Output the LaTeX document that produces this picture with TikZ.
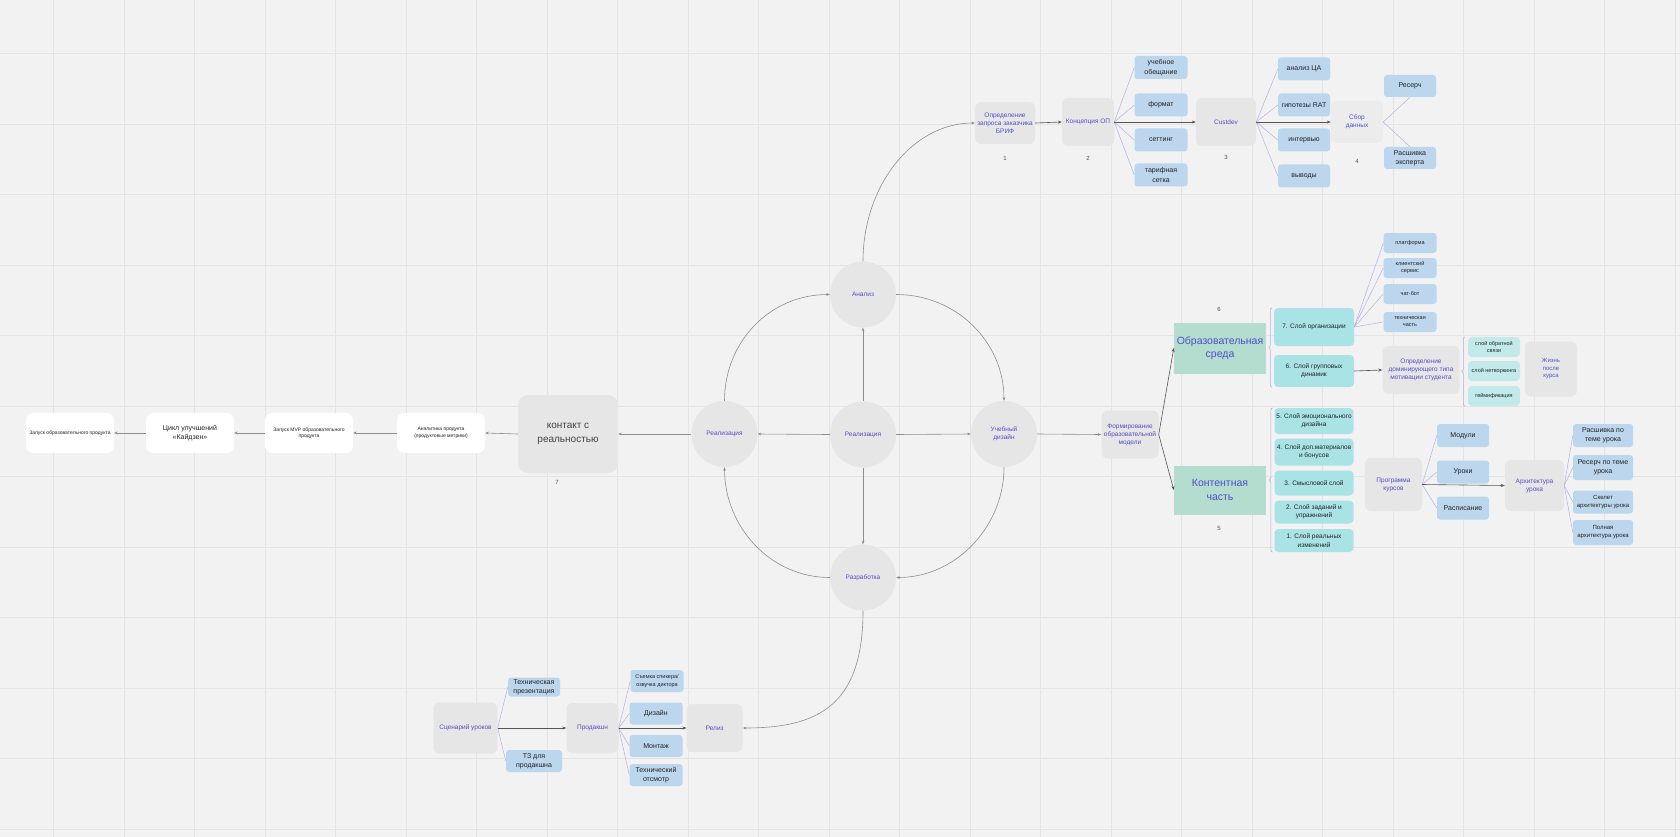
\documentclass[tikz,border=0pt]{standalone}
\usepackage{fontspec}
\setmainfont{Liberation Sans}
\usetikzlibrary{arrows.meta,calc,decorations.pathreplacing}
\definecolor{boardbg}{HTML}{F2F2F2}
\definecolor{gridc}{HTML}{E4E4E4}
\definecolor{stagegray}{HTML}{E6E6E6}
\definecolor{stagelight}{HTML}{ECECEC}
\definecolor{leafblue}{HTML}{BCD6EE}
\definecolor{tierteal}{HTML}{A9E3E5}
\definecolor{subteal}{HTML}{C3EAEB}
\definecolor{areagreen}{HTML}{B4DDD0}
\definecolor{violetink}{HTML}{4F4FC6}
\definecolor{inkc}{HTML}{222222}
\definecolor{flowgray}{HTML}{555555}
\definecolor{loopgray}{HTML}{8E8E8E}
\definecolor{fanc}{HTML}{B2B2E2}
\tikzset{
  gridline/.style={draw=gridc, line width=0.8pt},
  stage/.style={fill=stagegray, rounded corners=6pt, inner sep=1pt, align=center,
    font=\fontsize{6.5}{8}\selectfont, text=violetink},
  cyc/.style={circle, fill=stagegray, minimum size=66pt, inner sep=0pt, align=center,
    font=\fontsize{6.5}{8}\selectfont, text=violetink},
  leaf/.style={fill=leafblue, rounded corners=3pt, inner sep=1pt, align=center,
    font=\fontsize{7}{9.3}\selectfont, text=inkc},
  tier/.style={fill=tierteal, rounded corners=4pt, inner sep=1pt, align=center,
    font=\fontsize{6.5}{8.3}\selectfont, text=inkc},
  area/.style={fill=areagreen, inner sep=1pt, align=center,
    font=\fontsize{10.5}{13.5}\selectfont, text=violetink},
  card/.style={fill=white, rounded corners=7pt, inner sep=1pt, align=center,
    minimum width=88pt, minimum height=40pt, font=\fontsize{5}{6.5}\selectfont, text=inkc},
  numlbl/.style={font=\fontsize{6}{7}\selectfont, text=inkc!80},
  flow/.style={-{Stealth[length=4pt,width=3pt]}, line width=0.6pt, color=flowgray},
  loopflow/.style={-{Stealth[length=3.5pt,width=2.8pt]}, line width=0.6pt, color=loopgray},
  fan/.style={line width=0.5pt, color=fanc},
  span/.style={decorate, decoration={brace, amplitude=3pt}, line width=0.6pt, color=fanc},
}
\begin{document}
\begin{tikzpicture}[x=1pt,y=-1pt]
  \useasboundingbox (0,0) rectangle (1680,837);
  \fill[boardbg] (0,0) rectangle (1680,837);
  \foreach \k in {0,...,23} {\draw[gridline] ({53.5+70.5*\k},0) -- ++(0,837);}
  \foreach \k in {0,...,11} {\draw[gridline] (0,{53.5+70.5*\k}) -- ++(1680,0);}

  % the cycle
  \node[cyc] (analysis) at (863,294.5) {Анализ};
  \node[cyc] (core) at (863,434.5) {Реализация};
  \node[cyc] (deploy) at (724.5,434) {Реализация};
  \node[cyc] (design) at (1004,434) {Учебный\\дизайн};
  \node[cyc] (develop) at (863,577.5) {Разработка};
  \node[stage, minimum width=57pt, minimum height=48pt] (model) at (1130,434.5) {Формирование\\образовательной\\модели};
  \draw[loopflow] (core.north) -- (analysis.south);
  \draw[loopflow] (core.west) -- (deploy.east);
  \draw[loopflow] (core.east) -- (design.west);
  \draw[loopflow] (core.south) -- (develop.north);
  \draw[loopflow] (analysis.east) .. controls +(60,0) and +(0,-59) .. (design.north);
  \draw[loopflow] (design.south) .. controls +(0,59) and +(60,0) .. (develop.east);
  \draw[loopflow] (develop.west) .. controls +(-60,0) and +(0,59) .. (deploy.south);
  \draw[loopflow] (deploy.north) .. controls +(0,-59) and +(-60,0) .. (analysis.west);
  \draw[loopflow] (design.east) -- (model.west);

  % brief
  \node[stage, minimum width=60pt, minimum height=42pt] (brief) at (1005,123) {Определение\\запроса заказчика\\БРИФ};
  \node[stage, minimum width=52pt, minimum height=48pt] (concept) at (1088,122) {Концепция ОП};
  \node[stage, minimum width=60pt, minimum height=48pt] (custdev) at (1226,122) {Custdev};
  \node[stage, fill=stagelight, minimum width=52pt, minimum height=42pt] (gather) at (1357,122) {Сбор\\данных};
  \foreach \nm/\yy/\txt in {promise/67.5/{учебное\\обещание}, format/105/формат,
      setting/140/сеттинг, tariff/175/{тарифная\\сетка}}
    {\node[leaf, minimum width=53pt, minimum height=23pt] (\nm) at (1161,\yy) {\txt};}
  \foreach \nm/\yy/\txt in {audience/69/анализ ЦА, rat/105/гипотезы RAT,
      interview/140/интервью, findings/176/выводы}
    {\node[leaf, minimum width=52pt, minimum height=23pt] (\nm) at (1304,\yy) {\txt};}
  \node[leaf, minimum width=52pt, minimum height=22pt] (research) at (1410,86) {Ресерч};
  \node[leaf, minimum width=52pt, minimum height=22pt] (expert) at (1410,158) {Расшивка\\эксперта};
  \draw[loopflow] (analysis.north) .. controls +(0,-76) and +(-62,0) .. (brief.west);
  \draw[flow] (brief.east) -- (concept.west);
  \foreach \nm in {promise,format,setting,tariff} {\draw[fan] (concept.east) -- (\nm.west);}
  \draw[flow] (concept.east) -- (custdev.west);
  \foreach \nm in {audience,rat,interview,findings} {\draw[fan] (custdev.east) -- (\nm.west);}
  \draw[flow] (custdev.east) -- (gather.west);
  \draw[fan] (gather.east) -- (research.south);
  \draw[fan] (gather.east) -- (expert.north);

  % environment
  \node[area, minimum width=92pt, minimum height=51pt] (env) at (1220,348) {Образовательная\\среда};
  \node[area, minimum width=92pt, minimum height=49pt] (content) at (1220,490) {Контентная\\часть};
  \draw[flow] (model.east) -- (env.west);
  \draw[flow] (model.east) -- (content.west);
  \node[tier, minimum width=80pt, minimum height=38pt] (org) at (1314,327) {7. Слой организации};
  \node[tier, minimum width=80pt, minimum height=32pt] (group) at (1314,371) {6. Слой групповых\\динамик};
  \draw[span] ([xshift=-2pt]group.south west) -- ([xshift=-2pt]org.north west);
  \foreach \nm/\yy/\txt in {platform/243/платформа, service/268/{клиентский\\сервис},
      chatbot/294/чат-бот, techpart/322/{техническая\\часть}} {
    \node[leaf, minimum width=53pt, minimum height=20pt, font=\fontsize{5.5}{7}\selectfont] (\nm) at (1410,\yy) {\txt};
    \draw[fan] (org.east) -- (\nm.west);
  }
  \node[stage, minimum width=77pt, minimum height=48pt] (motive) at (1421,370) {Определение\\доминирующего типа\\мотивации студента};
  \draw[flow] (group.east) -- (motive.west);
  \foreach \nm/\yy/\txt in {feedback/347/{слой обратной\\связи}, network/371/слой нетворкинга,
      gamif/396/геймификация}
    {\node[tier, fill=subteal, minimum width=52pt, minimum height=20pt, font=\fontsize{5.5}{7}\selectfont] (\nm) at (1494,\yy) {\txt};}
  \draw[span] ([xshift=-3pt]gamif.south west) -- ([xshift=-3pt]feedback.north west);
  \node[stage, minimum width=52pt, minimum height=55pt, font=\fontsize{6}{7.5}\selectfont] (after) at (1551,369) {Жизнь\\после\\курса};

  % content
  \foreach \nm/\yy/\hh/\txt in {emotion/421/26/{5. Слой эмоционального\\дизайна},
      bonus/452/27/{4. Слой доп.материалов\\и бонусов}, meaning/483/25/{3. Смысловой слой},
      tasks/512/23/{2. Слой заданий и\\упражнений}, change/540.5/23/{1. Слой реальных\\изменений}}
    {\node[tier, minimum width=79pt, minimum height=\hh pt] (\nm) at (1314,\yy) {\txt};}
  \draw[span] ([xshift=-2pt]change.south west) -- ([xshift=-2pt]emotion.north west);
  \node[stage, minimum width=57pt, minimum height=53pt] (program) at (1393.5,484.5) {Программа\\курсов};
  \foreach \nm/\yy/\txt in {modules/435.5/Модули, lessons/472/Уроки, schedule/508/Расписание} {
    \node[leaf, minimum width=52pt, minimum height=23pt] (\nm) at (1463,\yy) {\txt};
    \draw[fan] (program.east) -- (\nm.west);
  }
  \node[stage, minimum width=59pt, minimum height=51pt] (lessonarch) at (1534.5,485.5) {Архитектура\\урока};
  \draw[flow] (program.east) -- (lessonarch.west);
  \foreach \nm/\yy/\hh/\txt in {outline/435.5/23/{Расшивка по\\теме урока},
      topicres/467.5/25/{Ресерч по теме\\урока}} {
    \node[leaf, minimum width=60pt, minimum height=\hh pt] (\nm) at (1603,\yy) {\txt};
    \draw[fan] (lessonarch.east) -- (\nm.west);
  }
  \foreach \nm/\yy/\hh/\txt in {skeleton/502/23/{Скелет\\архитектуры урока},
      fullarch/532.5/25/{Полная\\архитектура урока}} {
    \node[leaf, minimum width=60pt, minimum height=\hh pt, font=\fontsize{6}{8}\selectfont] (\nm) at (1603,\yy) {\txt};
    \draw[fan] (lessonarch.east) -- (\nm.west);
  }

  % reality chain
  \node[stage, rounded corners=10pt, minimum width=100pt, minimum height=78pt,
    font=\fontsize{10}{14}\selectfont, text=inkc!85] (reality) at (568,434) {контакт с\\реальностью};
  \node[card] (metrics) at (441,433) {Аналитика продукта\\(продуктовые метрики)};
  \node[card] (mvp) at (309,433) {Запуск MVP образовательного\\продукта};
  \node[card, font=\fontsize{7}{8.5}\selectfont] (kaizen) at (190,433) {Цикл улучшений\\«Кайдзен»};
  \node[card] (launch) at (70,433) {Запуск образовательного продукта};
  \draw[loopflow] (deploy.west) -- (reality.east);
  \draw[loopflow] (reality.west) -- (metrics.east);
  \draw[loopflow] (metrics.west) -- (mvp.east);
  \draw[loopflow] (mvp.west) -- (kaizen.east);
  \draw[loopflow] (kaizen.west) -- (launch.east);

  % production
  \node[stage, minimum width=64pt, minimum height=51pt] (script) at (465.5,728) {Сценарий уроков};
  \node[leaf, minimum width=52pt, minimum height=19pt] (techpres) at (534,687) {Техническая\\презентация};
  \node[leaf, minimum width=56pt, minimum height=22pt] (spec) at (534,761) {ТЗ для\\продакшна};
  \node[stage, minimum width=52pt, minimum height=50pt] (production) at (592.5,728) {Продакшн};
  \node[leaf, minimum width=53pt, minimum height=22pt, font=\fontsize{5.5}{7.5}\selectfont] (shooting) at (657,681) {Съемка спикера/\\озвучка диктора};
  \foreach \nm/\yy/\txt in {visual/713.5/Дизайн, editing/746/Монтаж, review/775/{Технический\\отсмотр}}
    {\node[leaf, minimum width=53pt, minimum height=22pt] (\nm) at (656,\yy) {\txt};}
  \node[stage, minimum width=56pt, minimum height=48pt] (release) at (714.7,728) {Релиз};
  \foreach \nm in {techpres,spec} {\draw[fan] (script.east) -- (\nm.west);}
  \draw[flow] (script.east) -- (production.west);
  \foreach \nm in {shooting,visual,editing,review} {\draw[fan] (production.east) -- (\nm.west);}
  \draw[flow] (production.east) -- (release.west);
  \draw[loopflow] (develop.south) .. controls +(0,95) and +(75,0) .. (release.east);

  \foreach \x/\y/\n in {1005/158/1, 1088/158/2, 1226/157/3, 1357/161/4,
      1219/528/5, 1219/309/6, 557/482/7}
    {\node[numlbl] (num\n) at (\x,\y) {\n};}
\end{tikzpicture}
\end{document}
